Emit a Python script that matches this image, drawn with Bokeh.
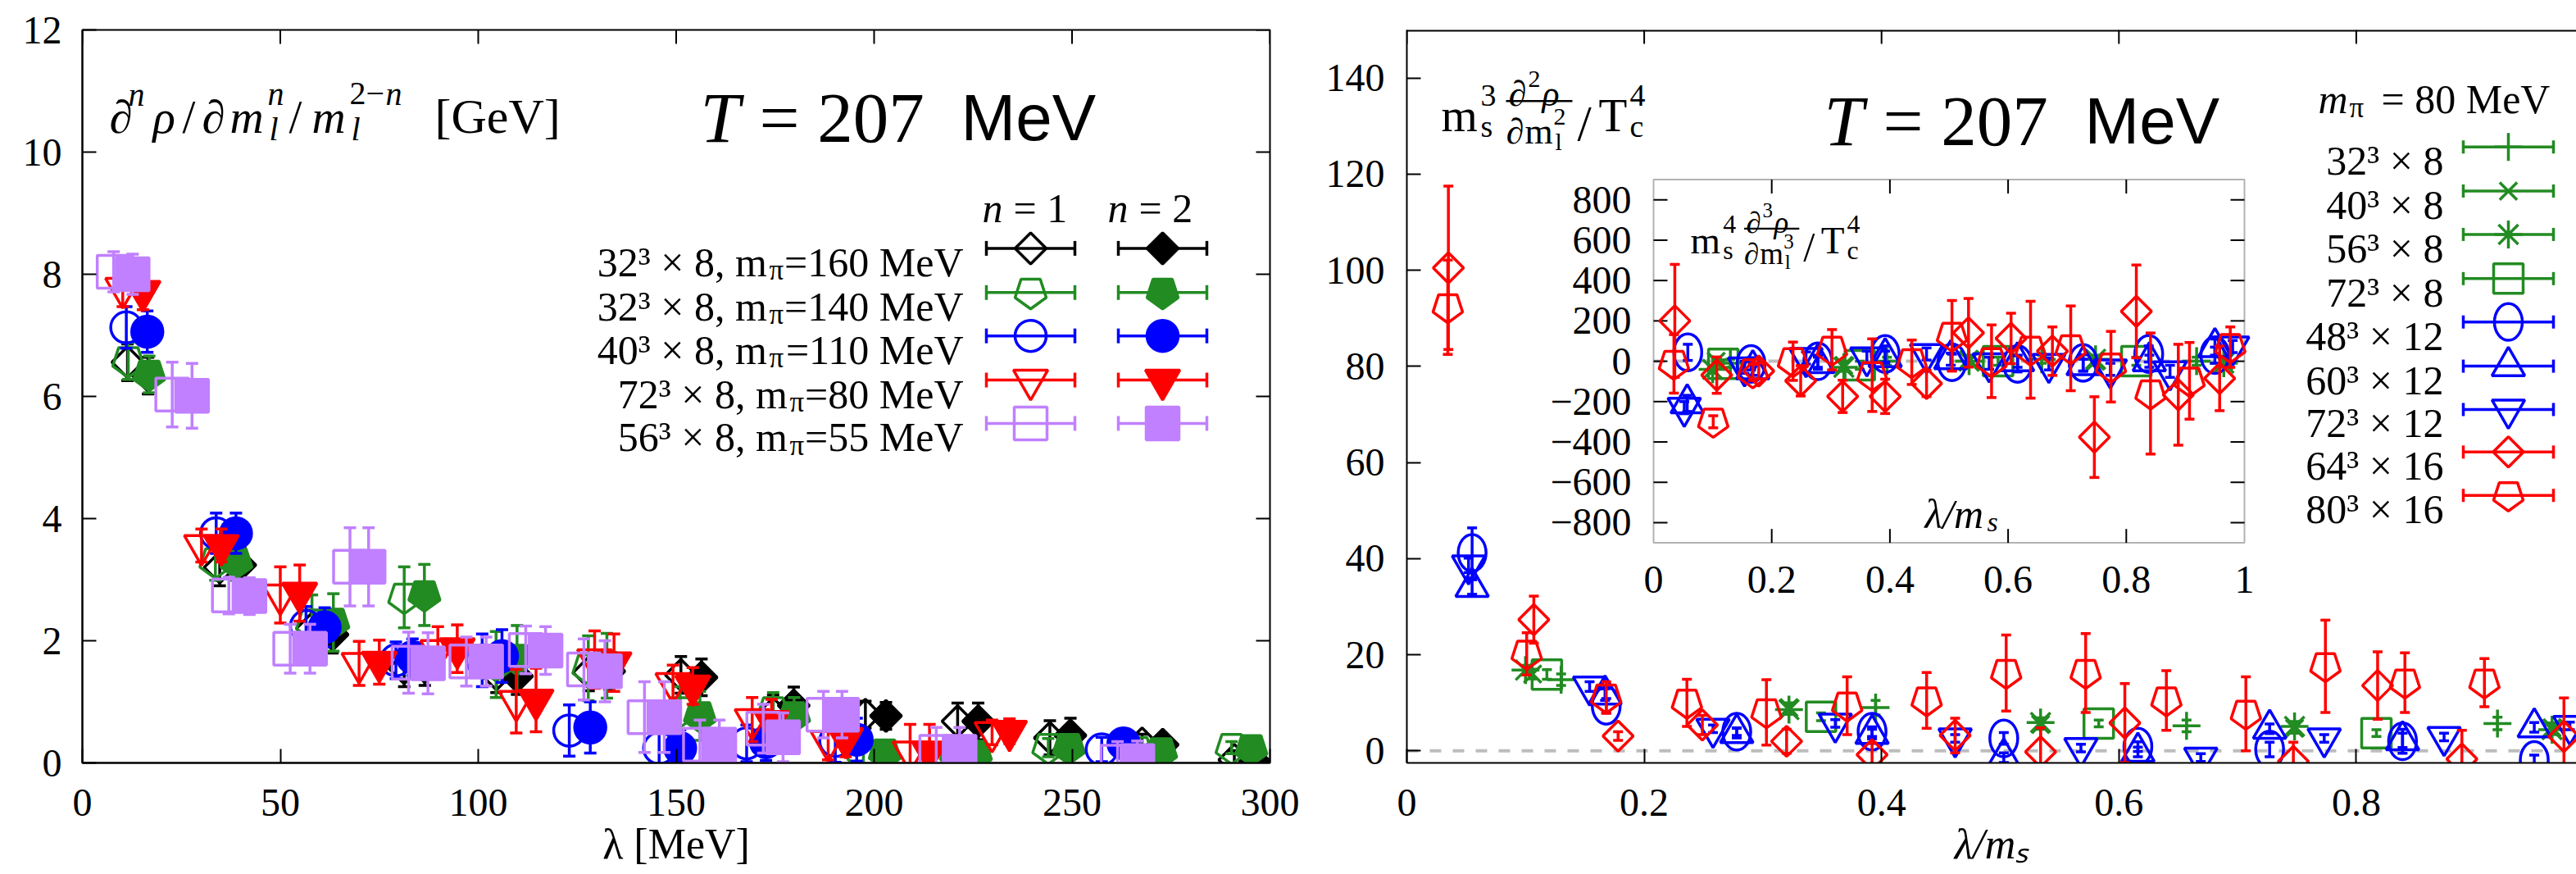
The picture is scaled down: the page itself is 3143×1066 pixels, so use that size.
import numpy as np
from bokeh.plotting import figure
from bokeh.models import (Range1d, FixedTicker, CustomJSTickFormatter,
                          Label, Span, BoxAnnotation, ColumnDataSource)
from bokeh.core.properties import value
from bokeh.layouts import row
from bokeh.embed import file_html
from bokeh.resources import INLINE

SERIF = "Liberation Serif"
SANS = "Liberation Sans"
BLACK, GREEN, BLUE, RED, PURPLE = "#000000", "#228b22", "#0000ff", "#ff0000", "#c080ff"
GRAY = "#bdbdbd"

# ------------------------------------------------------------------ left panel data
L_XTICKS = [0, 50, 100, 150, 200, 250, 300]
L_YTICKS = [0, 2, 4, 6, 8, 10, 12]

black_x1 = [11.4, 34.7, 58.0, 81.3, 104.6, 127.9, 151.2, 174.5, 197.8, 221.1, 244.4, 267.7, 291.0]
black_x2 = [16.6, 39.9, 63.2, 86.5, 109.8, 133.1, 156.4, 179.7, 203.0, 226.3, 249.6, 272.9, 296.2]
black_y1 = [6.56, 3.20, 2.20, 1.55, 1.45, 1.48, 1.44, 0.81, 0.79, 0.68, 0.41, 0.32, 0.05]
black_y2 = [6.34, 3.24, 2.10, 1.57, 1.42, 1.50, 1.40, 0.94, 0.77, 0.68, 0.45, 0.30, 0.02]
black_e = [0.30, 0.30, 0.30, 0.30, 0.30, 0.30, 0.30, 0.30, 0.22, 0.30, 0.28, 0.15, 0.15]

green_x1 = [11.6, 33.6, 58.0, 81.3, 104.5, 127.8, 151.0, 174.5, 197.3, 220.7, 244.0, 266.5, 290.3]
green_x2 = [16.9, 38.9, 63.4, 86.4, 109.8, 132.5, 156.0, 179.8, 202.7, 225.7, 249.2, 272.5, 295.3]
green_y1 = [6.58, 3.29, 2.28, 2.71, 1.61, 1.55, 0.85, 0.85, 0.14, 0.14, 0.25, 0.20, 0.25]
green_y2 = [6.36, 3.29, 2.30, 2.75, 1.71, 1.59, 0.77, 0.77, 0.16, 0.14, 0.25, 0.18, 0.23]
green_e = [0.30, 0.30, 0.47, 0.50, 0.54, 0.53, 0.40, 0.30, 0.15, 0.15, 0.15, 0.15, 0.10]

blue_x1 = [11.1, 33.8, 56.5, 79.2, 101.0, 123.0, 145.7, 167.8, 190.2, 257.5]
blue_x2 = [16.4, 38.8, 61.2, 83.4, 106.0, 128.3, 151.0, 172.7, 195.6, 263.0]
blue_y1 = [7.13, 3.76, 2.24, 1.68, 1.68, 0.53, 0.24, 0.32, 0.36, 0.22]
blue_y2 = [7.06, 3.76, 2.22, 1.73, 1.75, 0.58, 0.24, 0.34, 0.38, 0.32]
blue_e = [0.34, 0.33, 0.32, 0.30, 0.43, 0.42, 0.30, 0.30, 0.35, 0.20]

red_x1 = [10.2, 30.1, 50.0, 69.9, 89.8, 109.6, 129.4, 149.2, 169.2, 188.4, 209.1, 229.8]
red_x2 = [15.3, 35.1, 54.9, 75.0, 94.7, 114.6, 134.3, 154.2, 174.1, 192.8, 214.0, 234.2]
red_y1 = [7.77, 3.56, 2.75, 1.63, 1.84, 1.01, 1.69, 1.30, 0.71, 0.35, 0.18, 0.50]
red_y2 = [7.72, 3.56, 2.78, 1.65, 1.87, 1.03, 1.64, 1.26, 0.68, 0.40, 0.18, 0.52]
red_e = [0.30, 0.27, 0.46, 0.36, 0.39, 0.52, 0.47, 0.30, 0.36, 0.30, 0.45, 0.20]

purple_x1 = [7.9, 22.7, 37.0, 52.5, 67.6, 82.4, 97.0, 112.0, 126.7, 142.0, 156.0, 172.0, 187.2, 215.7, 261.5]
purple_x2 = [12.7, 27.7, 42.2, 57.5, 72.3, 87.3, 102.0, 117.0, 132.0, 147.0, 160.9, 177.0, 191.9, 221.6, 266.5]
purple_y1 = [8.04, 6.03, 2.74, 1.87, 3.21, 1.64, 1.66, 1.85, 1.53, 0.75, 0.30, 0.56, 0.79, 0.18, 0.02]
purple_y2 = [8.00, 6.01, 2.73, 1.87, 3.21, 1.63, 1.66, 1.84, 1.50, 0.75, 0.30, 0.42, 0.79, 0.18, 0.03]
purple_e = [0.33, 0.53, 0.30, 0.40, 0.64, 0.50, 0.40, 0.39, 0.50, 0.58, 0.40, 0.40, 0.38, 0.40, 0.33]

L_NAMES = [("32³ × 8, m", "π", "=160 MeV"), ("32³ × 8, m", "π", "=140 MeV"),
           ("40³ × 8, m", "π", "=110 MeV"), ("72³ × 8, m", "π", "=80 MeV"),
           ("56³ × 8, m", "π", "=55 MeV")]

# ------------------------------------------------------------------ right panel data
R_XTICKS = [0, 0.2, 0.4, 0.6, 0.8]
R_YTICKS = [0, 20, 40, 60, 80, 100, 120, 140]
I_XTICKS = [0, 0.2, 0.4, 0.6, 0.8, 1.0]
I_YTICKS = [-800, -600, -400, -200, 0, 200, 400, 600, 800]

r32_x = [0.130, 0.395, 0.657, 0.919]
r32_y = [14.8, 9.0, 5.2, 5.7]
r32_e = [1.2, 1.5, 1.2, 1.3]
r40_x = [0.106, 0.322, 0.534, 0.748, 0.965]
r40_y = [16.0, 9.0, 5.5, 4.7, 4.8]
r40_e = [1.0, 1.0, 1.0, 1.0, 1.0]
r56_x = [0.100, 0.322, 0.534, 0.748, 0.965]
r56_y = [16.8, 8.6, 5.9, 5.1, 4.4]
r56_e = [1.0, 1.0, 1.0, 1.0, 1.0]
r72_x = [0.118, 0.349, 0.583, 0.817]
r72_y = [15.9, 7.1, 5.7, 3.7]
r72_e = [1.0, 0.8, 0.7, 0.7]
r48t_x = [0.055, 0.168, 0.278, 0.392, 0.503, 0.616, 0.727, 0.839, 0.950]
r48t_y = [41.2, 9.4, 4.0, 4.0, 2.6, 0.9, 0.3, 2.0, -1.9]
r48t_e = [5.2, 1.5, 0.8, 1.0, 1.2, 1.0, 1.5, 2.5, 1.0]
r60t_x = [0.055, 0.167, 0.278, 0.392, 0.503, 0.616, 0.727, 0.839, 0.950]
r60t_y = [34.1, 11.7, 3.7, 3.5, -1.4, -0.2, 4.6, 2.2, 4.9]
r60t_e = [1.5, 1.2, 1.0, 1.0, 1.0, 1.0, 1.0, 1.5, 1.0]
r72t_x = [0.052, 0.154, 0.258, 0.361, 0.462, 0.568, 0.669, 0.773, 0.874, 0.980]
r72t_y = [38.6, 13.4, 4.6, 5.7, 2.6, 0.6, -1.4, 2.6, 2.9, 5.2]
r72t_e = [1.5, 1.0, 0.8, 0.8, 0.8, 0.8, 0.8, 0.8, 0.8, 0.8]
r64_x = [0.035, 0.107, 0.178, 0.249, 0.320, 0.392, 0.462, 0.534, 0.605, 0.747, 0.818, 0.889, 0.975]
r64_y = [100.5, 27.3, 3.1, 5.4, 2.0, -0.8, 3.2, -0.2, 5.8, -2.2, 13.6, -1.7, 3.0]
r64_e = [17.0, 4.9, 0.9, 2.0, 2.5, 2.5, 3.6, 5.0, 8.2, 4.0, 7.0, 6.0, 8.0]
r80_x = [0.0345, 0.101, 0.168, 0.236, 0.303, 0.371, 0.438, 0.505, 0.572, 0.640, 0.707, 0.774, 0.841, 0.908]
r80_y = [92.3, 20.2, 11.1, 10.0, 8.0, 9.4, 10.5, 16.2, 16.2, 10.5, 7.7, 17.6, 14.2, 14.2]
r80_e = [9.8, 4.4, 3.3, 4.9, 6.8, 6.0, 5.8, 7.9, 8.2, 6.2, 7.7, 9.6, 6.2, 5.0]

# inset: third derivative
i32_x = [0.130, 0.395, 0.657, 0.919]
i32_y = [-10, 0, 10, 0]
i32_e = [20, 20, 20, 20]
i40_x = [0.106, 0.322, 0.534, 0.748, 0.965]
i40_y = [0, -20, 10, 0, 0]
i40_e = [20, 20, 20, 20, 20]
i56_x = [0.100, 0.322, 0.534, 0.748, 0.965]
i56_y = [-40, -30, 0, 10, -10]
i56_e = [20, 20, 20, 20, 20]
i72_x = [0.118, 0.349, 0.583, 0.817]
i72_y = [-13, -20, 0, 0]
i72_e = [20, 20, 20, 20]
i48t_x = [0.058, 0.165, 0.278, 0.392, 0.505, 0.616, 0.727, 0.838, 0.950]
i48t_y = [44, -13, 0, 36, -5, -13, -8, 36, 30]
i48t_e = [40, 30, 30, 40, 40, 40, 40, 40, 40]
i60t_x = [0.057, 0.168, 0.278, 0.392, 0.503, 0.616, 0.727, 0.839, 0.950]
i60t_y = [-209, -40, -10, 20, 10, 0, -20, 0, 70]
i60t_e = [40, 30, 30, 30, 30, 30, 30, 30, 40]
i72t_x = [0.052, 0.154, 0.258, 0.361, 0.462, 0.568, 0.669, 0.773, 0.874, 0.980]
i72t_y = [-230, -30, 16, 20, 36, -10, -13, -40, -50, 73]
i72t_e = [30, 30, 30, 30, 30, 30, 30, 30, 30, 30]
i64_x = [0.036, 0.107, 0.178, 0.249, 0.320, 0.392, 0.462, 0.533, 0.605, 0.675, 0.746, 0.817, 0.888, 0.958]
i64_y = [200, -69, -48, -97, -174, -174, -110, 141, 113, 50, -376, 247, -166, -85]
i64_e = [280, 90, 40, 75, 80, 85, 65, 170, 125, 120, 200, 230, 250, 160]
i80_x = [0.0345, 0.101, 0.168, 0.236, 0.302, 0.370, 0.437, 0.505, 0.572, 0.638, 0.706, 0.774, 0.841, 0.907, 0.976]
i80_y = [-13, -300, -55, 0, 57, -69, -5, 126, 0, 57, 64, -27, -160, -97, 70]
i80_e = [145, 30, 40, 95, 100, 180, 110, 175, 180, 240, 210, 175, 300, 190, 100]

R_NAMES = ["32³ × 8", "40³ × 8", "56³ × 8", "72³ × 8", "48³ × 12", "60³ × 12",
           "72³ × 12", "64³ × 16", "80³ × 16"]

# ------------------------------------------------------------------ layout constants (pixels)
H = 1066
L_LEFT, L_RIGHT, L_TOP, L_BOTTOM = 100, 1549, 34, 930
W1 = 1600
R_LEFT, R_TOP, R_BOTTOM = 1716, 36, 932
W2 = 3143 - W1
R_XEND = 0.9855
R_YR = (-2.5, 150)
TICK = 17


def lconv(px, py):
    return (px - L_LEFT) / (L_RIGHT - L_LEFT) * 300.0, (L_BOTTOM - py) / (L_BOTTOM - L_TOP) * 12.0


def rconv(px, py):
    return ((px - R_LEFT) / (3143 - R_LEFT) * R_XEND,
            R_YR[0] + (R_BOTTOM - py) / (R_BOTTOM - R_TOP) * (R_YR[1] - R_YR[0]))


FMT_JS = """
const v = Math.round(tick * 1000) / 1000;
const s = String(Math.abs(v));
return v < 0 ? "\u2212" + s : s;
"""


def fmt(v):
    v = round(v, 3)
    s = ("%g" % abs(v))
    return ("\u2212" + s) if v < 0 else s


def style_axis(ax, ticks, standoff=20):
    ax.ticker = FixedTicker(ticks=ticks)
    ax.formatter = CustomJSTickFormatter(code=FMT_JS)
    ax.axis_line_width = 2
    ax.axis_line_color = "black"
    ax.major_tick_in = TICK
    ax.major_tick_out = 0
    ax.major_tick_line_width = 2
    ax.major_tick_line_color = "black"
    ax.minor_tick_line_color = None
    ax.major_label_text_font = SERIF
    ax.major_label_text_color = "black"
    ax.major_label_text_font_size = "48px"
    ax.major_label_standoff = standoff


def make_fig(width, xr, yr, bl, br, bt, bb):
    p = figure(width=width, height=H, x_range=Range1d(*xr), y_range=Range1d(*yr),
               output_backend="svg", toolbar_location=None,
               min_border_left=bl, min_border_right=br, min_border_top=bt, min_border_bottom=bb)
    p.xgrid.visible = False
    p.ygrid.visible = False
    p.background_fill_color = "white"
    p.border_fill_color = "white"
    return p


HAS_NGON = hasattr(figure(), "ngon")


def draw_marker(g, src, kind, color, filled, size, lw):
    fill = color if filled else None
    common = dict(source=src, line_color=color, line_width=lw, fill_color=fill)
    if kind == "diamond":
        g.scatter(x="x", y="y", marker="square", angle=np.pi / 4, size=size / 1.414, **common)
    elif kind == "pentagon":
        if HAS_NGON:
            g.ngon(x="x", y="y", radius=size / 2, radius_units="screen", n=5, angle=np.pi, **common)
        else:
            g.scatter(x="x", y="y", marker="hex", size=size, **common)
    elif kind == "ellipse":
        g.ellipse(x="x", y="y", width=size * 0.85, height=size * 1.12,
                  width_units="screen", height_units="screen", **common)
    else:
        g.scatter(x="x", y="y", marker=kind, size=size, **common)


def draw_err_series(g, xs, ys, es, kind, color, filled, size, cap, lw=3.5):
    xs = np.asarray(xs, float)
    ys = np.asarray(ys, float)
    es = np.asarray(es, float)
    src = ColumnDataSource(dict(x=xs, y=ys, lo=ys - es, hi=ys + es))
    g.segment(x0="x", y0="lo", x1="x", y1="hi", source=src, line_color=color, line_width=lw)
    g.scatter(x="x", y="lo", source=src, marker="dash", size=cap, line_color=color, line_width=lw)
    g.scatter(x="x", y="hi", source=src, marker="dash", size=cap, line_color=color, line_width=lw)
    draw_marker(g, src, kind, color, filled, size, lw)


def legend_symbol(p, conv, cx, cy, half, kind, color, filled, size, cap, lw=3.5):
    xa, y = conv(cx - half, cy)
    xb, _ = conv(cx + half, cy)
    xc, _ = conv(cx, cy)
    p.segment(x0=[xa], y0=[y], x1=[xb], y1=[y], line_color=color, line_width=lw)
    p.scatter(x=[xa, xb], y=[y, y], marker="dash", angle=np.pi / 2, size=cap,
              line_color=color, line_width=lw)
    draw_marker(p, ColumnDataSource(dict(x=[xc], y=[y])), kind, color, filled, size, lw)


def put(p, conv, px, py, text, size, style="normal", font=SERIF, align="left"):
    x, y = conv(px, py)
    p.add_layout(Label(x=x, y=y, text=text, text_font=font, text_font_size="%.0fpx" % size,
                       text_font_style=style, text_align=align, text_baseline="alphabetic",
                       text_color="black"))


TW = {' ': 250, ',': 250, '=': 564, '×': 564, '³': 300, 'M': 889, 'e': 444, 'V': 722,
      'm': 778, 'π': 549}


def tw(s, size):
    return sum(TW.get(c, 500) for c in s) / 1000.0 * size


def frac_label(p, conv, x0, y0, s, pm, pn):
    pieces = [("m", 0, 0, 57, "normal"), (pm, 48, -24, 38, "normal"), ("s", 48, 14, 38, "normal"),
              ("∂", 82, -26, 44, "italic"), (pn, 106, -44, 30, "normal"), ("ρ", 123, -26, 44, "italic"),
              ("∂", 79, 20, 44, "italic"), ("m", 102, 20, 44, "normal"), (pn, 137, 2, 30, "normal"),
              ("l", 139, 32, 30, "normal"),
              ("/", 166, 10, 62, "normal"), ("T", 192, 0, 57, "normal"), ("4", 230, -24, 38, "normal"),
              ("c", 230, 14, 38, "normal")]
    for t, dx, dy, sz, st in pieces:
        put(p, conv, x0 + dx * s, y0 + dy * s, t, sz * s, st)
    xa, ya = conv(x0 + 79 * s, y0 - 17 * s)
    xb, _ = conv(x0 + 160 * s, y0 - 17 * s)
    p.segment(x0=[xa], y0=[ya], x1=[xb], y1=[ya], line_color="black", line_width=2.5 * s)


def title(p, conv, x0, base):
    put(p, conv, x0, base, "T", 87, "italic")
    put(p, conv, x0 + 72, base, "= 207", 87, "normal")
    put(p, conv, x0 + 318, base, "MeV", 80, "normal", font=SANS)


def x_label(ax, text, style):
    ax.axis_label = text
    ax.axis_label_text_font = SERIF
    ax.axis_label_text_font_size = "52px"
    ax.axis_label_text_font_style = style
    ax.axis_label_text_color = "black"
    ax.axis_label_standoff = 3


# ================================================================== left figure
p1 = make_fig(W1, (0, 300), (0, 12), L_LEFT, W1 - L_RIGHT, L_TOP, H - L_BOTTOM)
p1.outline_line_color = "black"
p1.outline_line_width = 2
style_axis(p1.xaxis[0], L_XTICKS, standoff=32)
style_axis(p1.yaxis[0], L_YTICKS, standoff=25)
x_label(p1.xaxis[0], "λ [MeV]", "normal")

# mirrored ticks on the top and right edges
dy_l = TICK / (L_BOTTOM - L_TOP) * 12.0
dx_l = TICK / (L_RIGHT - L_LEFT) * 300.0
p1.segment(x0=L_XTICKS, y0=[12] * len(L_XTICKS), x1=L_XTICKS, y1=[12 - dy_l] * len(L_XTICKS),
           line_color="black", line_width=2)
p1.segment(x0=[300] * len(L_YTICKS), y0=L_YTICKS, x1=[300 - dx_l] * len(L_YTICKS), y1=L_YTICKS,
           line_color="black", line_width=2)

left_series = [
    (BLACK, "diamond", 38, black_x1, black_y1, black_x2, black_y2, black_e),
    (GREEN, "pentagon", 40, green_x1, green_y1, green_x2, green_y2, green_e),
    (BLUE, "circle", 38, blue_x1, blue_y1, blue_x2, blue_y2, blue_e),
    (RED, "inverted_triangle", 42, red_x1, red_y1, red_x2, red_y2, red_e),
    (PURPLE, "square", 40, purple_x1, purple_y1, purple_x2, purple_y2, purple_e),
]
for color, kind, size, x1, y1, x2, y2, e in left_series:
    draw_err_series(p1, x1, y1, e, kind, color, False, size, 15)
    draw_err_series(p1, x2, y2, e, kind, color, True, size, 15)

title(p1, lconv, 854, 141)

# y label  d^n rho / d m_l^n / m_l^{2-n} [GeV]
for t, x, y, sz, st in [("∂", 133, 140, 57, "italic"), ("n", 156, 113, 40, "italic"),
                        ("ρ", 186, 140, 57, "italic"), ("/", 222, 140, 57, "normal"),
                        ("∂", 246, 140, 57, "italic"), ("m", 280, 140, 57, "italic"),
                        ("n", 326, 112, 40, "italic"), ("l", 328, 155, 40, "italic"),
                        ("/", 352, 140, 57, "normal"), ("m", 380, 140, 57, "italic"),
                        ("2−", 426, 112, 40, "normal"), ("n", 470, 112, 40, "italic"),
                        ("l", 428, 155, 40, "italic"), ("[GeV]", 530, 140, 60, "normal")]:
    put(p1, lconv, x, y, t, sz, st)

# legend
LF = 50
put(p1, lconv, 1198, 252, "n", LF, "italic")
put(p1, lconv, 1236, 252, "= 1", LF)
put(p1, lconv, 1351, 252, "n", LF, "italic")
put(p1, lconv, 1389, 252, "= 2", LF)
L_ROWS = [301, 355, 408, 462, 515]
for (pre, sub, suf), cy, (color, kind, size, *_rest) in zip(L_NAMES, L_ROWS, left_series):
    xr = 1175
    put(p1, lconv, xr, cy + 17, suf, LF, align="right")
    xs = xr - tw(suf, LF) - 1
    put(p1, lconv, xs, cy + 27, sub, 35, align="right")
    put(p1, lconv, xs - tw(sub, 35) - 1, cy + 17, pre, LF, align="right")
    legend_symbol(p1, lconv, 1257, cy, 54, kind, color, False, size, 18)
    legend_symbol(p1, lconv, 1418, cy, 54, kind, color, True, size, 18)

# ================================================================== right figure
p2 = make_fig(W2, (0, R_XEND), R_YR, R_LEFT - W1, 0, R_TOP, H - R_BOTTOM)
p2.outline_line_color = None
style_axis(p2.xaxis[0], R_XTICKS, standoff=32)
style_axis(p2.yaxis[0], R_YTICKS, standoff=27)
x_label(p2.xaxis[0], "λ/mₛ", "italic")

# top frame line and mirrored ticks
dy_r = TICK / (R_BOTTOM - R_TOP) * (R_YR[1] - R_YR[0])
p2.segment(x0=[0], y0=[R_YR[1]], x1=[R_XEND], y1=[R_YR[1]], line_color="black", line_width=4)
p2.segment(x0=R_XTICKS, y0=[R_YR[1]] * len(R_XTICKS), x1=R_XTICKS,
           y1=[R_YR[1] - dy_r] * len(R_XTICKS), line_color="black", line_width=2)

p2.add_layout(Span(location=0, dimension="width", line_color=GRAY, line_width=4,
                   line_dash="14 14", level="underlay"))

right_series = [
    (GREEN, "cross", 34, r32_x, r32_y, r32_e, i32_x, i32_y, i32_e),
    (GREEN, "x", 30, r40_x, r40_y, r40_e, i40_x, i40_y, i40_e),
    (GREEN, "asterisk", 34, r56_x, r56_y, r56_e, i56_x, i56_y, i56_e),
    (GREEN, "square", 36, r72_x, r72_y, r72_e, i72_x, i72_y, i72_e),
    (BLUE, "ellipse", 40, r48t_x, r48t_y, r48t_e, i48t_x, i48t_y, i48t_e),
    (BLUE, "triangle", 40, r60t_x, r60t_y, r60t_e, i60t_x, i60t_y, i60t_e),
    (BLUE, "inverted_triangle", 40, r72t_x, r72t_y, r72t_e, i72t_x, i72t_y, i72t_e),
    (RED, "diamond", 37, r64_x, r64_y, r64_e, i64_x, i64_y, i64_e),
    (RED, "pentagon", 38, r80_x, r80_y, r80_e, i80_x, i80_y, i80_e),
]
for color, kind, size, x, y, e, *_i in right_series:
    draw_err_series(p2, x, y, e, kind, color, False, size, 12)

title(p2, rconv, 2225, 147)
frac_label(p2, rconv, 1758, 140, 1.0, "3", "2")

# legend
put(p2, rconv, 2828, 121, "m", LF, "italic")
put(p2, rconv, 2866, 131, "π", 35)
put(p2, rconv, 2905, 121, "= 80 MeV", LF)
R_ROWS = [179, 233, 286, 340, 393, 447, 500, 552, 605]
for name, cy, (color, kind, size, *_r) in zip(R_NAMES, R_ROWS, right_series):
    put(p2, rconv, 2981, cy + 17, name, LF, align="right")
    legend_symbol(p2, rconv, 3060, cy, 55, kind, color, False, size, 16)

# ------------------------------------------------------------------ inset
IX0, IY0 = rconv(2017, 663)
IX1, IY1 = rconv(2738, 219)
p2.add_layout(BoxAnnotation(left=IX0, right=IX1, bottom=IY0, top=IY1, fill_color="white",
                            fill_alpha=1.0, line_color="black", line_width=2, level="underlay"))
sub = p2.subplot(x_source=Range1d(0, 1), y_source=Range1d(-900, 900),
                 x_target=Range1d(IX0, IX1), y_target=Range1d(IY0, IY1))
sub.segment(x0=[0], y0=[0], x1=[1], y1=[0], line_color=GRAY, line_width=4, line_dash="14 14")
tx = TICK / 721.0
ty = TICK / 444.0 * 1800.0
itx = I_XTICKS[1:-1]
n = len(itx)
sub.segment(x0=itx, y0=[-900] * n, x1=itx, y1=[-900 + ty] * n, line_color="black", line_width=2)
sub.segment(x0=itx, y0=[900] * n, x1=itx, y1=[900 - ty] * n, line_color="black", line_width=2)
m = len(I_YTICKS)
sub.segment(x0=[0] * m, y0=I_YTICKS, x1=[tx] * m, y1=I_YTICKS, line_color="black", line_width=2)
sub.segment(x0=[1] * m, y0=I_YTICKS, x1=[1 - tx] * m, y1=I_YTICKS, line_color="black", line_width=2)
sub.text(x=I_XTICKS, y=[-900] * len(I_XTICKS), text=[fmt(v) for v in I_XTICKS],
         y_offset=45, text_align="center", text_baseline="middle",
         text_font=value(SERIF), text_font_size=value("48px"), text_color="black")
sub.text(x=[0] * m, y=I_YTICKS, text=[fmt(v) for v in I_YTICKS],
         x_offset=-27, text_align="right", text_baseline="middle",
         text_font=value(SERIF), text_font_size=value("48px"), text_color="black")

for color, kind, size, _x, _y, _e, ix, iy, ie in right_series:
    draw_err_series(sub, ix, iy, ie, kind, color, False, size, 12)

frac_label(p2, rconv, 2062, 293, 0.83, "4", "3")
put(p2, rconv, 2348, 628, "λ/m", 50, "italic")
put(p2, rconv, 2424, 637, "s", 34, "italic")

layout = row(p1, p2)
open("out.html", "w").write(file_html(layout, INLINE))
